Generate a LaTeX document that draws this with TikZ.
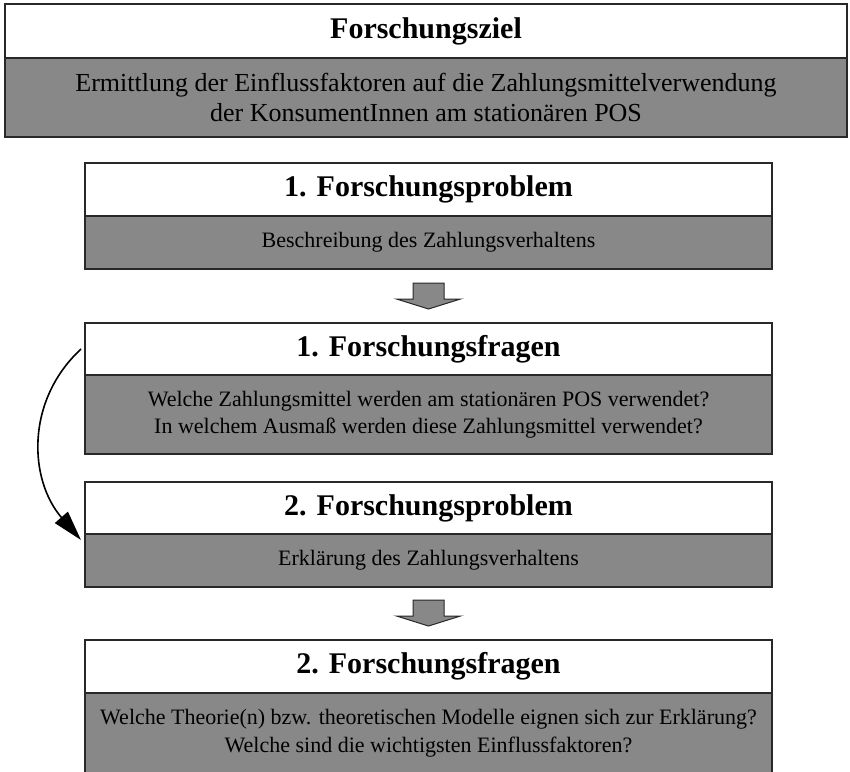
\documentclass[tikz,border=0pt]{standalone}
\usepackage{fontspec}
\setmainfont{Liberation Serif}
\usetikzlibrary{arrows.meta,calc}
\definecolor{boxgray}{RGB}{136,136,136}
\definecolor{edgegray}{RGB}{40,40,40}
\tikzset{
  part/.style={draw=edgegray, line width=1.3pt, inner sep=0pt, outer sep=0pt,
    anchor=north west, align=center, text=black},
  titlepart/.style={part, fill=white, font=\fontsize{30}{36}\selectfont\bfseries},
  bodypart/.style={part, fill=boxgray, font=\fontsize{22}{27.5}\selectfont},
  topbody/.style={part, fill=boxgray, font=\fontsize{26}{29.5}\selectfont},
  blockarrow/.style={draw=edgegray, line width=1pt, fill=boxgray},
  curvearrow/.style={line width=1.6pt, -{Triangle[length=30pt,width=17pt]}}
}
\begin{document}
\begin{tikzpicture}[x=1pt,y=-1pt]
\useasboundingbox (0,0) rectangle (850,771);
% Forschungsziel
\node[titlepart, minimum width=842, minimum height=54] (zt) at (5,4) {Forschungsziel};
\node[topbody, minimum width=842, minimum height=79] (zb) at (5,58)
  {Ermittlung der Einflussfaktoren auf die Zahlungsmittelverwendung\\der KonsumentInnen am stationären POS};
% 1. Forschungsproblem
\node[titlepart, minimum width=687, minimum height=53] (p1t) at (85,163) {1. Forschungsproblem};
\node[bodypart, minimum width=687, minimum height=53] (p1b) at (85,216) {Beschreibung des Zahlungsverhaltens};
% 1. Forschungsfragen
\node[titlepart, minimum width=687, minimum height=52] (f1t) at (85,323) {1. Forschungsfragen};
\node[bodypart, minimum width=687, minimum height=79] (f1b) at (85,375)
  {Welche Zahlungsmittel werden am stationären POS verwendet?\\In welchem Ausmaß werden diese Zahlungsmittel verwendet?};
% 2. Forschungsproblem
\node[titlepart, minimum width=687, minimum height=52] (p2t) at (85,482) {2. Forschungsproblem};
\node[bodypart, minimum width=687, minimum height=53] (p2b) at (85,534) {Erklärung des Zahlungsverhaltens};
% 2. Forschungsfragen
\node[titlepart, minimum width=687, minimum height=53] (f2t) at (85,640) {2. Forschungsfragen};
\node[bodypart, minimum width=687, minimum height=80] (f2b) at (85,693)
  {Welche Theorie(n) bzw. theoretischen Modelle eignen sich zur Erklärung?\\Welche sind die wichtigsten Einflussfaktoren?};
% block arrows
\coordinate (a1) at ($(p1b.south)+(0,-14pt)$);
\coordinate (a2) at ($(p2b.south)+(0,-13pt)$);
\foreach \a in {a1,a2}{
  \draw[blockarrow] ($(\a)+(-15.5pt,0)$) -- ($(\a)+(15.5pt,0)$) -- ($(\a)+(15.5pt,-16pt)$)
    -- ($(\a)+(32pt,-16pt)$) -- ($(\a)+(0,-26pt)$) -- ($(\a)+(-32pt,-16pt)$)
    -- ($(\a)+(-15.5pt,-16pt)$) -- cycle;
}
% curved arrow
\coordinate (cs) at ($(f1t.west)+(-4pt,0)$);
\coordinate (ce) at ($(p2b.north west)+(-4pt,-6pt)$);
\draw[curvearrow] (cs) .. controls +(-56pt,-52pt) and +(-52pt,60pt) .. (ce);
\end{tikzpicture}
\end{document}
